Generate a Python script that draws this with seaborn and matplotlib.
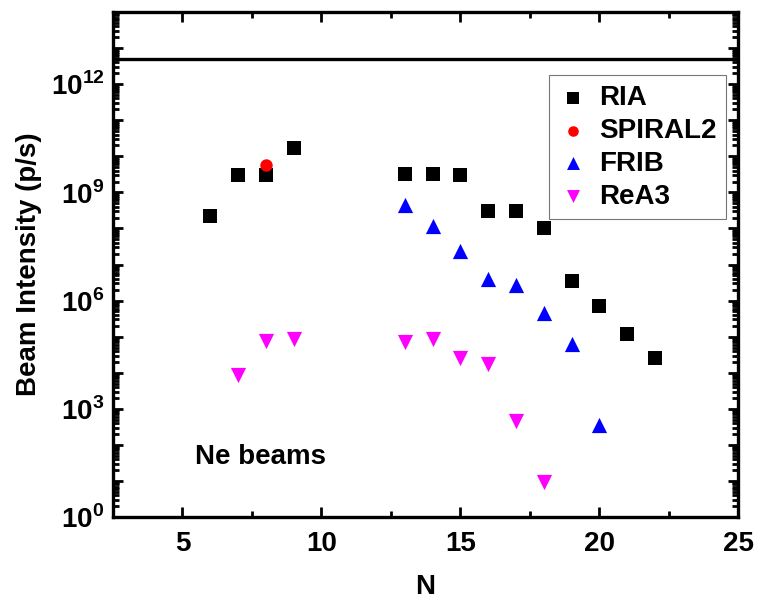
import numpy as np
import pandas as pd
import matplotlib
matplotlib.use("Agg")
import matplotlib.pyplot as plt
import matplotlib.ticker as mticker
import seaborn as sns

# Neutron number N and beam intensities (particles per second)
ria_n = [6, 7, 8, 9, 13, 14, 15, 16, 17, 18, 19, 20, 21, 22]
ria_i = [2.2e8, 3.0e9, 3.0e9, 1.7e10, 3.2e9, 3.2e9, 3.0e9, 3.0e8, 3.0e8,
         1.0e8, 3.5e6, 7.0e5, 1.15e5, 2.6e4]

spiral2_n = [8]
spiral2_i = [5.9e9]

frib_n = [13, 14, 15, 16, 17, 18, 19, 20]
frib_i = [4.5e8, 1.2e8, 2.3e7, 3.9e6, 2.7e6, 4.5e5, 6.3e4, 3.6e2]

rea3_n = [7, 8, 9, 13, 14, 15, 16, 17, 18]
rea3_i = [8.7e3, 7.5e4, 8.4e4, 7.2e4, 8.4e4, 2.6e4, 1.7e4, 4.5e2, 9.4]

limit_level = 5.0e12

FS = 20

sns.set_theme(style="white")
plt.rcParams["font.family"] = ["Liberation Sans", "DejaVu Sans"]
plt.rcParams["font.weight"] = "bold"
plt.rcParams["text.color"] = "black"
plt.rcParams["axes.labelcolor"] = "black"
plt.rcParams["mathtext.fontset"] = "custom"
plt.rcParams["mathtext.rm"] = "Liberation Sans:bold"
plt.rcParams["mathtext.bf"] = "Liberation Sans:bold"

fig = plt.figure(figsize=(7.58, 6.03), dpi=100)
ax = fig.add_axes([0.149, 0.1426, 0.825, 0.8375])

series = [
    ("RIA", ria_n, ria_i, "s", "black", 90),
    ("SPIRAL2", spiral2_n, spiral2_i, "o", "red", 80),
    ("FRIB", frib_n, frib_i, "^", "blue", 120),
    ("ReA3", rea3_n, rea3_i, "v", "magenta", 120),
]
for name, n, inten, mk, col, size in series:
    df = pd.DataFrame({"N": n, "I": inten})
    sns.scatterplot(data=df, x="N", y="I", marker=mk, color=col, s=size,
                    linewidth=0, label=name, ax=ax, zorder=3)

ax.axhline(limit_level, color="black", lw=2.4, zorder=2)

ax.set_yscale("log")
ax.set_xlim(2.5, 25)
ax.set_ylim(1, 1e14)

# x ticks
ax.xaxis.set_major_locator(mticker.MultipleLocator(5))
ax.xaxis.set_minor_locator(mticker.MultipleLocator(2.5))

# y ticks: every decade, labels every third decade
ax.yaxis.set_major_locator(mticker.LogLocator(base=10, numticks=30))
ax.yaxis.set_minor_locator(mticker.LogLocator(base=10, subs=np.arange(2, 10), numticks=30))


def decade_label(v, pos):
    e = int(round(np.log10(v)))
    if e % 3 == 0:
        return r"$10^{%d}$" % e
    return ""


ax.yaxis.set_major_formatter(mticker.FuncFormatter(decade_label))
ax.yaxis.set_minor_formatter(mticker.NullFormatter())

ax.tick_params(axis="both", which="both", direction="in", top=True, right=True,
               bottom=True, left=True, labelsize=FS, width=2.0, colors="black")
ax.tick_params(axis="both", which="major", length=7)
ax.tick_params(axis="x", which="major", pad=10)
ax.tick_params(axis="y", which="major", pad=6)
ax.tick_params(axis="both", which="minor", length=4)
for lbl in ax.get_xticklabels() + ax.get_yticklabels():
    lbl.set_fontweight("bold")

for sp in ax.spines.values():
    sp.set_color("black")
    sp.set_linewidth(2.4)

ax.set_xlabel("N", fontsize=FS, fontweight="bold", labelpad=12)
ax.set_ylabel("Beam Intensity (p/s)", fontsize=FS, fontweight="bold", labelpad=6)

ax.text(0.131, 0.105, "Ne beams", transform=ax.transAxes, fontsize=FS,
        fontweight="bold", color="black")

leg = ax.legend(loc="upper right", bbox_to_anchor=(0.981, 0.875), borderaxespad=0,
                frameon=True, fancybox=False, edgecolor="#555555",
                prop={"size": FS, "weight": "bold"}, handlelength=1.0,
                handletextpad=0.45, labelspacing=0.25, borderpad=0.35,
                markerscale=0.85)
leg.get_frame().set_linewidth(0.8)

fig.savefig("out.png", dpi=100)
